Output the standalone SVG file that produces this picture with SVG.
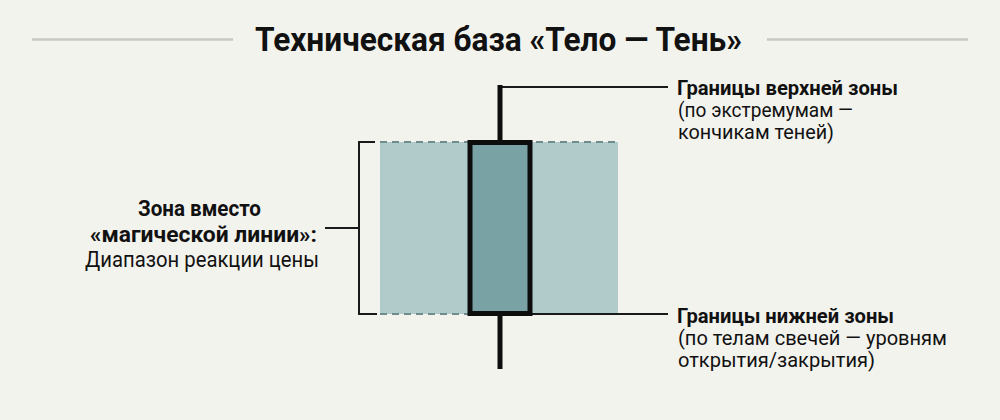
<svg xmlns="http://www.w3.org/2000/svg" width="1000" height="420" viewBox="0 0 1000 420">
  <style>
    .title { font-family: Roboto, "Liberation Sans", sans-serif; font-weight: 700; font-size: 34px; fill: #111; }
    .lb { font-family: Roboto, "Liberation Sans", sans-serif; font-weight: 700; font-size: 22.5px; fill: #111; }
    .lr { font-family: Roboto, "Liberation Sans", sans-serif; font-weight: 400; font-size: 22.5px; fill: #111; }
    .rb { font-family: Roboto, "Liberation Sans", sans-serif; font-weight: 700; font-size: 20px; fill: #111; }
    .rr { font-family: Roboto, "Liberation Sans", sans-serif; font-weight: 400; font-size: 19.5px; fill: #111; }
    .rule { stroke: #c9c9c3; stroke-width: 2.5; }
    .thin { stroke: #1a1a1a; stroke-width: 2; fill: none; }
    .dash { stroke: #6e8d8d; stroke-width: 2; stroke-dasharray: 7 5; fill: none; }
    .wick { stroke: #0d0d0d; stroke-width: 5; }
  </style>
  <rect x="0" y="0" width="1000" height="420" fill="#f3f3ee"/>

  <g id="title">
    <line class="rule" x1="32" y1="39.5" x2="233" y2="39.5"/>
    <line class="rule" x1="767" y1="39.5" x2="968" y2="39.5"/>
    <text class="title" x="255" y="51" textLength="487" lengthAdjust="spacingAndGlyphs">Техническая база «Тело — Тень»</text>
  </g>

  <g id="zone">
    <rect x="380" y="142" width="238" height="172" fill="#b1cbca"/>
  </g>

  <g id="connectors">
    <line class="dash" x1="380" y1="142" x2="618" y2="142"/>
    <line class="dash" x1="380" y1="314" x2="468" y2="314"/>
    <line class="thin" x1="532" y1="314" x2="668" y2="314"/>
    <line class="thin" x1="500" y1="87" x2="668" y2="87"/>
    <polyline class="thin" points="375,142 359,142 359,314 377,314"/>
    <line class="thin" x1="325" y1="228" x2="359" y2="228"/>
  </g>

  <g id="candle">
    <line class="wick" x1="500" y1="85" x2="500" y2="142"/>
    <line class="wick" x1="500" y1="314" x2="500" y2="369"/>
    <rect x="470" y="142.5" width="60" height="171" fill="#79a2a4" stroke="#0d0d0d" stroke-width="5"/>
  </g>

  <g id="zone-label">
    <text class="lb" x="138" y="216" textLength="123" lengthAdjust="spacingAndGlyphs">Зона вместо</text>
    <text class="lb" x="90" y="241.5" textLength="227" lengthAdjust="spacingAndGlyphs">«магической линии»:</text>
    <text class="lr" x="85" y="267" textLength="234" lengthAdjust="spacingAndGlyphs">Диапазон реакции цены</text>
  </g>

  <g id="upper-label">
    <text class="rb" x="677" y="95" textLength="221" lengthAdjust="spacingAndGlyphs">Границы верхней зоны</text>
    <text class="rr" x="678" y="117" textLength="175" lengthAdjust="spacingAndGlyphs">(по экстремумам —</text>
    <text class="rr" x="678" y="139" textLength="156" lengthAdjust="spacingAndGlyphs">кончикам теней)</text>
  </g>

  <g id="lower-label">
    <text class="rb" x="677" y="323" textLength="217" lengthAdjust="spacingAndGlyphs">Границы нижней зоны</text>
    <text class="rr" x="678" y="345" textLength="269" lengthAdjust="spacingAndGlyphs">(по телам свечей — уровням</text>
    <text class="rr" x="678" y="367" textLength="197" lengthAdjust="spacingAndGlyphs">открытия/закрытия)</text>
  </g>
</svg>
